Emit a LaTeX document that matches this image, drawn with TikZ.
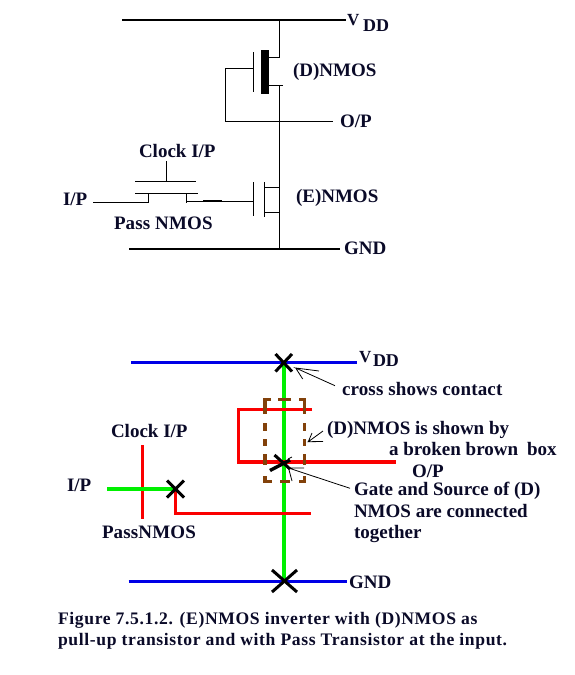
\documentclass[tikz,border=0pt]{standalone}
\usepackage{fontspec}
\setmainfont{Liberation Serif}
\newfontfamily\capfont[LetterSpace=3.6]{Liberation Serif}
\newfontfamily\labfont[LetterSpace=0.8]{Liberation Serif}
\definecolor{bluewire}{RGB}{0,0,230}
\definecolor{greenwire}{RGB}{0,240,0}
\definecolor{redwire}{RGB}{250,0,0}
\definecolor{brownbox}{RGB}{130,65,10}
\definecolor{inktext}{RGB}{10,10,40}
\tikzset{
  lab/.style={anchor=base west,inner sep=0pt,outer sep=0pt,font=\fontsize{19}{22}\selectfont\bfseries,text=inktext},
  figcap/.style={anchor=base west,inner sep=0pt,outer sep=0pt,font=\capfont\fontsize{17.6}{22}\selectfont\bfseries,text=inktext},
  wlab/.style={lab,font=\labfont\fontsize{19}{22}\selectfont\bfseries},
  subv/.style={lab,font=\fontsize{17}{18}\selectfont\bfseries},
  subd/.style={lab,font=\fontsize{18}{20}\selectfont\bfseries},
  rail/.style={line width=2pt},
  wire/.style={line width=1pt},
  bwire/.style={bluewire,line width=3pt},
  gwire/.style={greenwire,line width=4pt},
  rwire/.style={redwire,line width=3.2pt},
  crossm/.style={black,line width=3pt},
  leader/.style={line width=0.8pt},
  dbox/.style={brownbox,line width=3.2pt}
}
\begin{document}
\begin{tikzpicture}[x=1pt,y=-1pt]
\useasboundingbox (0,0) rectangle (574,675);
\fill[white] (0,0) rectangle (574,675);
% upper schematic
\draw[rail] (122,20) -- (346,20);
\draw[rail] (129,248.7) -- (340,248.7);
\draw[wire] (279.5,20) -- (279.5,57) -- (269,57);
\fill (261,50) rectangle (269,94);
\draw[wire] (253.5,52) -- (253.5,92);
\draw[wire] (253.5,68) -- (225,68) -- (225,121) -- (333,121);
\draw[wire] (283,85) -- (269,85);
\draw[wire] (279.5,85) -- (279.5,248);
\draw[wire] (253.5,182) -- (253.5,216);
\draw[wire] (264.5,182) -- (264.5,217);
\draw[wire] (264.5,187.5) -- (279.5,187.5);
\draw[wire] (264.5,212) -- (279.5,212);
\draw[wire] (186,201) -- (253.5,201);
\draw[line width=1.6pt] (203,201) -- (222,201);
\draw[wire] (166.5,161) -- (166.5,182);
\draw[wire] (135,181.5) -- (196,181.5);
\draw[wire] (135,193) -- (198,193);
\draw[wire] (148,193) -- (148,202.5);
\draw[wire] (186,193) -- (186,203);
\draw[wire] (93,202.5) -- (148,202.5);
\node[subv] (v1) at (347,25) {V};
\node[subd] (d1) at (363,31) {DD};
\node[lab] (dn1) at (293,76) {(D)NMOS};
\node[lab] (op1) at (340,127) {O/P};
\node[lab] (ck1) at (139,157) {Clock I/P};
\node[lab] (ip1) at (63,205) {I/P};
\node[wlab] (ps1) at (114,229) {Pass NMOS};
\node[lab] (en1) at (296,202) {(E)NMOS};
\node[lab] (gn1) at (344,254) {GND};
% lower layout
\draw[gwire] (284.3,363) -- (284.3,581);
\draw[bwire] (131,362.7) -- (357,362.7);
\draw[bwire] (128.7,581.3) -- (347,581.3);
\draw[rwire] (312,409.3) -- (238.5,409.3) -- (238.5,462) -- (396,462);
\draw[rwire] (142.3,445) -- (142.3,519);
\draw[gwire] (107,489.3) -- (175.5,489.3);
\draw[rwire] (175.3,489) -- (175.3,513.3) -- (311,513.3);
% broken box
\draw[dbox] (265,414) -- (265,399.5) -- (270.5,399.5);
\draw[dbox] (278,399.5) -- (291,399.5);
\draw[dbox] (299,399.5) -- (304.5,399.5) -- (304.5,414);
\draw[dbox] (265,423) -- (265,431) (265,439) -- (265,446) (265,454) -- (265,465);
\draw[dbox] (304.5,423) -- (304.5,431) (304.5,439) -- (304.5,446) (304.5,454) -- (304.5,465);
\draw[dbox] (265,476) -- (265,481.5) -- (272,481.5);
\draw[dbox] (280,481.5) -- (290,481.5);
\draw[dbox] (299,481.5) -- (304.5,481.5) -- (304.5,476);
% contact crosses
\draw[crossm] (275.5,354) -- (292,371.5) (275.5,371.5) -- (292,354);
\draw[crossm] (167,480.5) -- (184,497.5) (167,497.5) -- (184,480.5);
\draw[crossm] (272,570) -- (297,592) (272,592) -- (297,570);
\draw[crossm] (274.5,455) -- (290,469);
\draw[crossm,line width=3.4pt] (270,470.5) -- (290,460);
% leaders
\coordinate (t1) at (295.7,368);
\coordinate (t2) at (308.3,441.7);
\coordinate (t3) at (288.5,468);
\draw[leader] (335,385.7) -- (t1) -- (319,371) (t1) -- (302.7,379);
\draw[leader] (323,431) -- (t2) -- (323,441.5) (t2) -- (312,433);
\draw[leader] (350,488.3) -- (t3) -- (304,468) (t3) -- (292,481);
\draw[leader] (288,459) -- (292,457);
\node[subv] (v2) at (359,362) {V};
\node[subd] (d2) at (373,366) {DD};
\node[wlab] (c2) at (342,395) {cross shows contact};
\node[lab] (dn2) at (327,434) {(D)NMOS is shown by};
\node[lab] (br2) at (389,455.7) {a broken brown};
\node[lab] (bx2) at (527,455.7) {box};
\node[lab] (op2) at (412,477) {O/P};
\node[lab] (g2a) at (354,495.7) {Gate and Source of (D)};
\node[lab] (g2b) at (354,517.7) {NMOS are connected};
\node[lab] (g2c) at (354,538) {together};
\node[lab] (gn2) at (349,588) {GND};
\node[lab] (ck2) at (111,437.7) {Clock I/P};
\node[lab] (ip2) at (67,491.7) {I/P};
\node[wlab] (ps2) at (102,538) {PassNMOS};
\node[figcap] (f1) at (58,624) {Figure 7.5.1.2. (E)NMOS inverter with (D)NMOS as};
\node[figcap] (f2) at (58,645.7) {pull-up transistor and with Pass Transistor at the input.};
\end{tikzpicture}
\end{document}
